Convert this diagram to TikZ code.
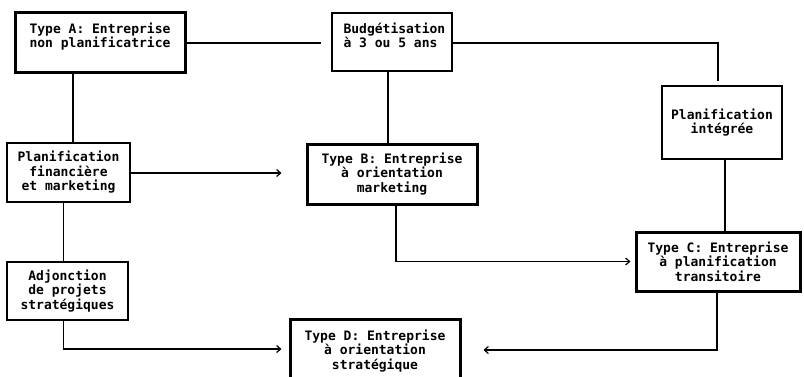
\documentclass[tikz,border=0pt]{standalone}
\usepackage{fontspec}
\setmonofont{DejaVu Sans Mono}
\usetikzlibrary{arrows.meta}
\begin{document}
\begin{tikzpicture}[x=1pt,y=-1pt,
  every node/.style={font=\ttfamily\bfseries\fontsize{13}{14.5}\selectfont, inner sep=0pt},
  thinbox/.style={draw, line width=1.3pt, rectangle},
  thickbox/.style={draw, line width=3pt, rectangle},
  txt/.style={align=center},
  link/.style={line width=1.3pt},
  arr/.style={link, -{Straight Barb[length=4pt,width=7pt,line width=1.2pt]}}
]
\useasboundingbox (0,0) rectangle (804,376);
\clip (0,0) rectangle (804,376);

% boxes
\node[thickbox, minimum width=170pt, minimum height=60pt] (A) at (100,42) {};
\node[txt, anchor=north] (Atxt) at ([yshift=-12pt]A.north) {Type A: Entreprise\\non planificatrice};

\node[thinbox, minimum width=120pt, minimum height=58pt] (Bud) at (392,42) {};
\node[align=left, anchor=north west] (Budtxt) at ([xshift=12pt,yshift=-10pt]Bud.north west) {Budgétisation\\à 3 ou 5 ans};

\node[thinbox, txt, minimum width=120pt, minimum height=73pt] (PI) at (722,122.5) {Planification\\intégrée};

\node[thinbox, txt, minimum width=123pt, minimum height=59pt] (PF) at (68.5,172.5) {Planification\\financière\\et marketing};

\node[thickbox, txt, minimum width=170pt, minimum height=60pt] (B) at (392,174) {Type B: Entreprise\\à orientation\\marketing};

\node[thickbox, txt, minimum width=164pt, minimum height=59pt] (C) at (718,261.5) {Type C: Entreprise\\à planification\\transitoire};

\node[thinbox, txt, minimum width=121pt, minimum height=58pt] (AD) at (67.5,291) {Adjonction\\de projets\\stratégiques};

\node[thickbox, minimum width=170pt, minimum height=60pt] (D) at (375,349) {};
\node[txt, anchor=north] (Dtxt) at ([yshift=-12pt]D.north) {Type D: Entreprise\\à orientation\\stratégique};

% connectors
\draw[link, shorten >=10pt] (A.east |- 0,43) -- (Bud.west |- 0,43);
\draw[link] (Bud.east |- 0,43) -| ([xshift=-4pt,yshift=4pt]PI.north);
\draw[link] ([xshift=-27pt]A.south) -- ([xshift=-27pt]A.south |- PF.north);
\draw[link] ([xshift=-4pt]Bud.south) -- ([xshift=-4pt]Bud.south |- B.north);
\draw[link] ([xshift=3pt]PI.south) -- ([xshift=3pt]PI.south |- C.north);
\draw[arr, shorten >=24pt] (PF.east |- 0,173) -- (B.west |- 0,173);
\draw[link] ([xshift=-5pt]PF.south) -- ([xshift=-5pt]PF.south |- AD.north);
\draw[arr] ([xshift=4pt]B.south) |- ([xshift=-4pt]C.west);
\draw[arr] ([xshift=-4pt]AD.south) |- ([xshift=-7pt]D.west);
\draw[arr] ([xshift=-1pt]C.south) |- ([xshift=22pt,yshift=-1pt]D.east);
\end{tikzpicture}
\end{document}
